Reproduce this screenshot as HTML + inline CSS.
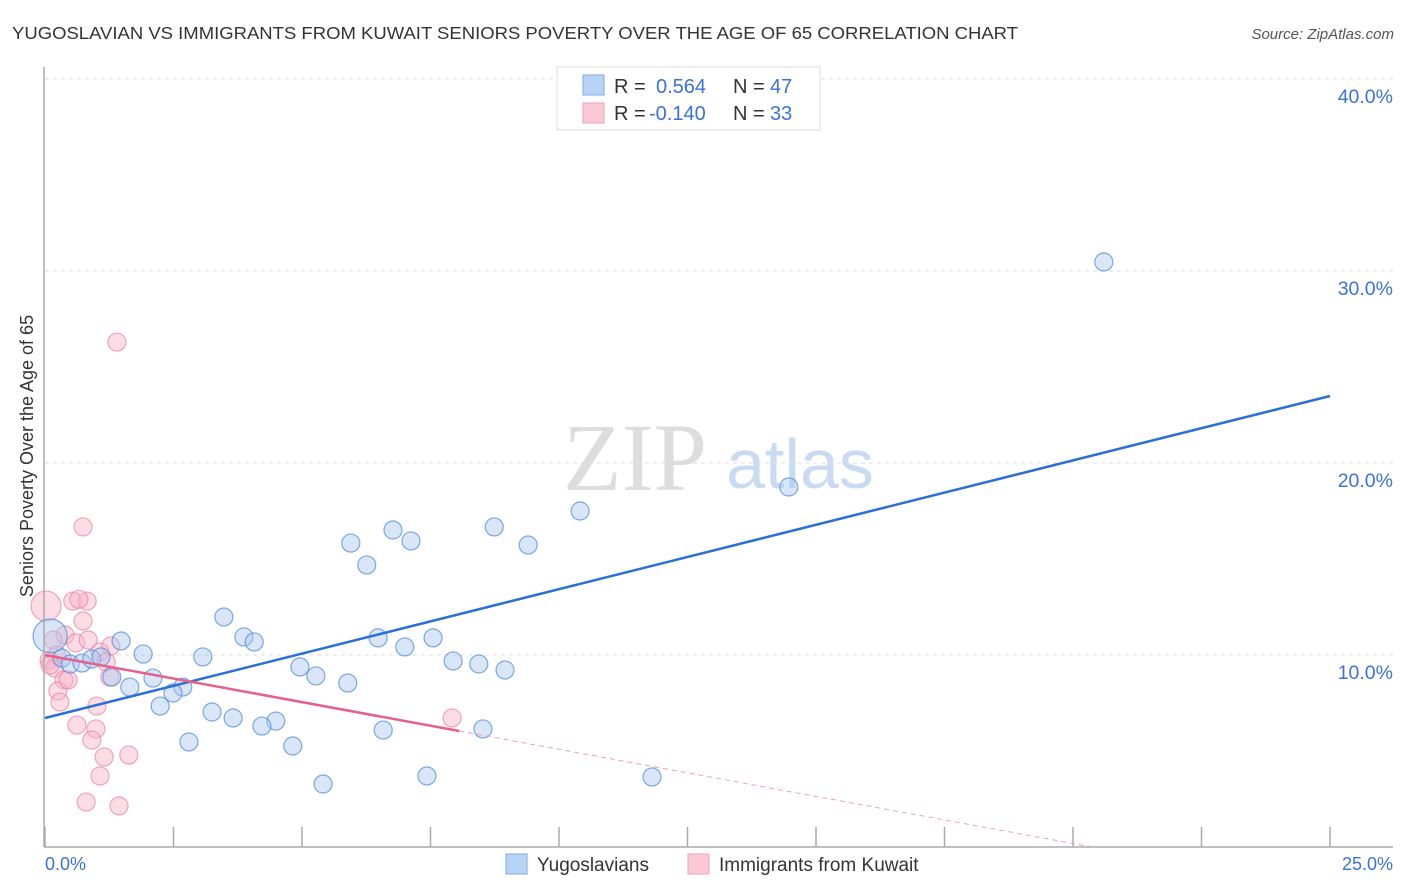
<!DOCTYPE html>
<html><head><meta charset="utf-8"><style>
body{margin:0;background:#fff;width:1406px;height:892px;overflow:hidden;font-family:"Liberation Sans",sans-serif}
</style></head><body>
<svg id="chart" width="1406" height="892" style="position:absolute;left:0;top:0">
<text x="12" y="39" font-size="17.5" fill="#333" textLength="1006" lengthAdjust="spacingAndGlyphs">YUGOSLAVIAN VS IMMIGRANTS FROM KUWAIT SENIORS POVERTY OVER THE AGE OF 65 CORRELATION CHART</text>
<text x="1394" y="39" font-size="15" fill="#555" font-style="italic" text-anchor="end">Source: ZipAtlas.com</text>
<g>
<text x="635" y="490" font-size="96" fill="#ddd" font-family="Liberation Serif,serif" text-anchor="middle">ZIP</text>
<text x="800" y="488" font-size="70" fill="#c9dbf3" text-anchor="middle">atlas</text>
</g>
<g id="grid"></g><g id="marks"></g>
<line x1="44" y1="67" x2="44" y2="847" stroke="#aaa" stroke-width="1.5"/>
<line x1="44" y1="847" x2="1393" y2="847" stroke="#aaa" stroke-width="1.5"/>
<text x="27" y="456" font-size="18" fill="#333" text-anchor="middle" transform="rotate(-90 27 456)" dy="6">Seniors Poverty Over the Age of 65</text>
<text x="45" y="870" font-size="18" fill="#3b72d8">0.0%</text>
<text x="1393" y="870" font-size="18" fill="#3b72d8" text-anchor="end">25.0%</text>
<g>
<rect x="557" y="67" width="263" height="63" fill="#fff" stroke="#ddd"/>
<rect x="583" y="75" width="21" height="20" fill="#b8d2f5" stroke="#7fa9e6"/>
<rect x="583" y="103" width="21" height="20" fill="#fac8d6" stroke="#f0a0b8"/>
<text y="93" font-size="20" fill="#333"><tspan x="614">R = </tspan><tspan x="656" fill="#3b72d8">0.564</tspan><tspan x="733">N = </tspan><tspan x="770" fill="#3b72d8">47</tspan></text>
<text y="120" font-size="20" fill="#333"><tspan x="614">R = </tspan><tspan x="649" fill="#3b72d8">-0.140</tspan><tspan x="733">N = </tspan><tspan x="770" fill="#3b72d8">33</tspan></text>
</g>
<g>
<rect x="506" y="854" width="21" height="20" fill="#b8d2f5" stroke="#7fa9e6"/>
<text x="537" y="871" font-size="19" fill="#333">Yugoslavians</text>
<rect x="688" y="854" width="21" height="20" fill="#fac8d6" stroke="#f0a0b8"/>
<text x="719" y="871" font-size="19" fill="#333">Immigrants from Kuwait</text>
</g>
</svg>
<script>
const yTicks=[10,20,30,40];
const xTickVals=[0,2.5,5,7.5,10,12.5,15,17.5,20,22.5,25];
const blueX=[20.60,14.47,10.41,8.74,6.77,7.12,9.40,5.95,6.26,3.48,3.87,4.07,6.48,7.55,7.00,1.48,1.91,3.07,7.94,8.44,8.95,4.96,5.27,5.89,2.10,2.68,2.49,1.65,1.30,2.24,3.25,3.66,4.49,4.22,6.58,8.52,2.80,4.82,7.43,11.81,5.41,0.10,0.33,0.49,0.72,0.91,1.09];
const blueY=[30.47,18.75,17.50,16.67,16.51,15.94,15.73,15.83,14.69,11.98,10.94,10.68,10.89,10.89,10.42,10.73,10.05,9.90,9.69,9.53,9.22,9.38,8.91,8.54,8.80,8.33,8.02,8.33,8.85,7.34,7.03,6.72,6.56,6.30,6.09,6.15,5.47,5.26,3.70,3.65,3.28,10.99,9.84,9.53,9.58,9.79,9.90];
const pinkX=[1.40,0.74,0.02,0.54,0.82,0.74,0.39,0.60,0.16,1.07,1.28,1.19,1.26,0.23,0.08,0.19,0.37,0.25,0.29,1.01,0.99,0.62,0.91,1.15,1.63,1.07,0.80,1.44,7.92,0.45,0.10,0.84,0.66];
const pinkY=[26.30,16.67,12.55,12.81,12.81,11.77,11.04,10.63,10.78,10.16,10.47,9.64,8.85,10.00,9.74,9.32,8.70,8.13,7.55,7.34,6.15,6.35,5.57,4.69,4.79,3.70,2.34,2.14,6.72,8.70,9.48,10.78,12.90];
const blueLine=[6.72,23.49];
const pinkLine=[10.0,-0.491,8.06];
const NS="http://www.w3.org/2000/svg";
const sx=v=>45+v*51.4, sy=v=>847-v*19.2;
function mk(t,a,p){const e=document.createElementNS(NS,t);for(const k in a)e.setAttribute(k,a[k]);p.appendChild(e);return e;}
const grid=document.getElementById('grid'),marks=document.getElementById('marks');
yTicks.forEach(v=>{
 const l=mk('line',{x1:45,x2:1393,y1:sy(v),y2:sy(v),stroke:'#ddd','stroke-dasharray':'4,4'},grid);
 
 
 const t=mk('text',{x:1393,y:sy(v)+24,'font-size':19.5,fill:'#3b72d8','text-anchor':'end'},grid);
 t.textContent=v.toFixed(1)+'%';
 
 
});
xTickVals.forEach(v=>{
 const l=mk('line',{x1:sx(v),x2:sx(v),y1:827,y2:847,stroke:'#aaa','stroke-width':1.5},grid);
 
 
});
pinkX.forEach((x,i)=>{
 const r=(i==2)?15:9;
 const c=mk('circle',{cx:sx(x),cy:sy(pinkY[i]),r:r,fill:'rgba(248,180,200,0.45)',stroke:'rgba(235,130,160,0.7)','stroke-width':1.2},marks);
 
 
});
blueX.forEach((x,i)=>{
 const r=(i==41)?17:9;
 const c=mk('circle',{cx:sx(x),cy:sy(blueY[i]),r:r,fill:'rgba(170,200,240,0.45)',stroke:'rgba(80,140,220,0.75)','stroke-width':1.2},marks);
 
 
});
const bl=mk('line',{x1:sx(0),y1:sy(blueLine[0]),x2:sx(25),y2:sy(blueLine[1]),stroke:'#2a6fd6','stroke-width':2.5},marks);


const pEnd=pinkLine[2], pZero=-pinkLine[0]/pinkLine[1];
const pl=mk('line',{x1:sx(0),y1:sy(pinkLine[0]),x2:sx(pEnd),y2:sy(pinkLine[0]+pinkLine[1]*pEnd),stroke:'#e8608a','stroke-width':2.5},marks);


const pd=mk('line',{x1:sx(pEnd),y1:sy(pinkLine[0]+pinkLine[1]*pEnd),x2:sx(pZero),y2:sy(0),stroke:'#eda0b8','stroke-width':1,'stroke-dasharray':'5,4'},marks);


</script>
</body></html>
